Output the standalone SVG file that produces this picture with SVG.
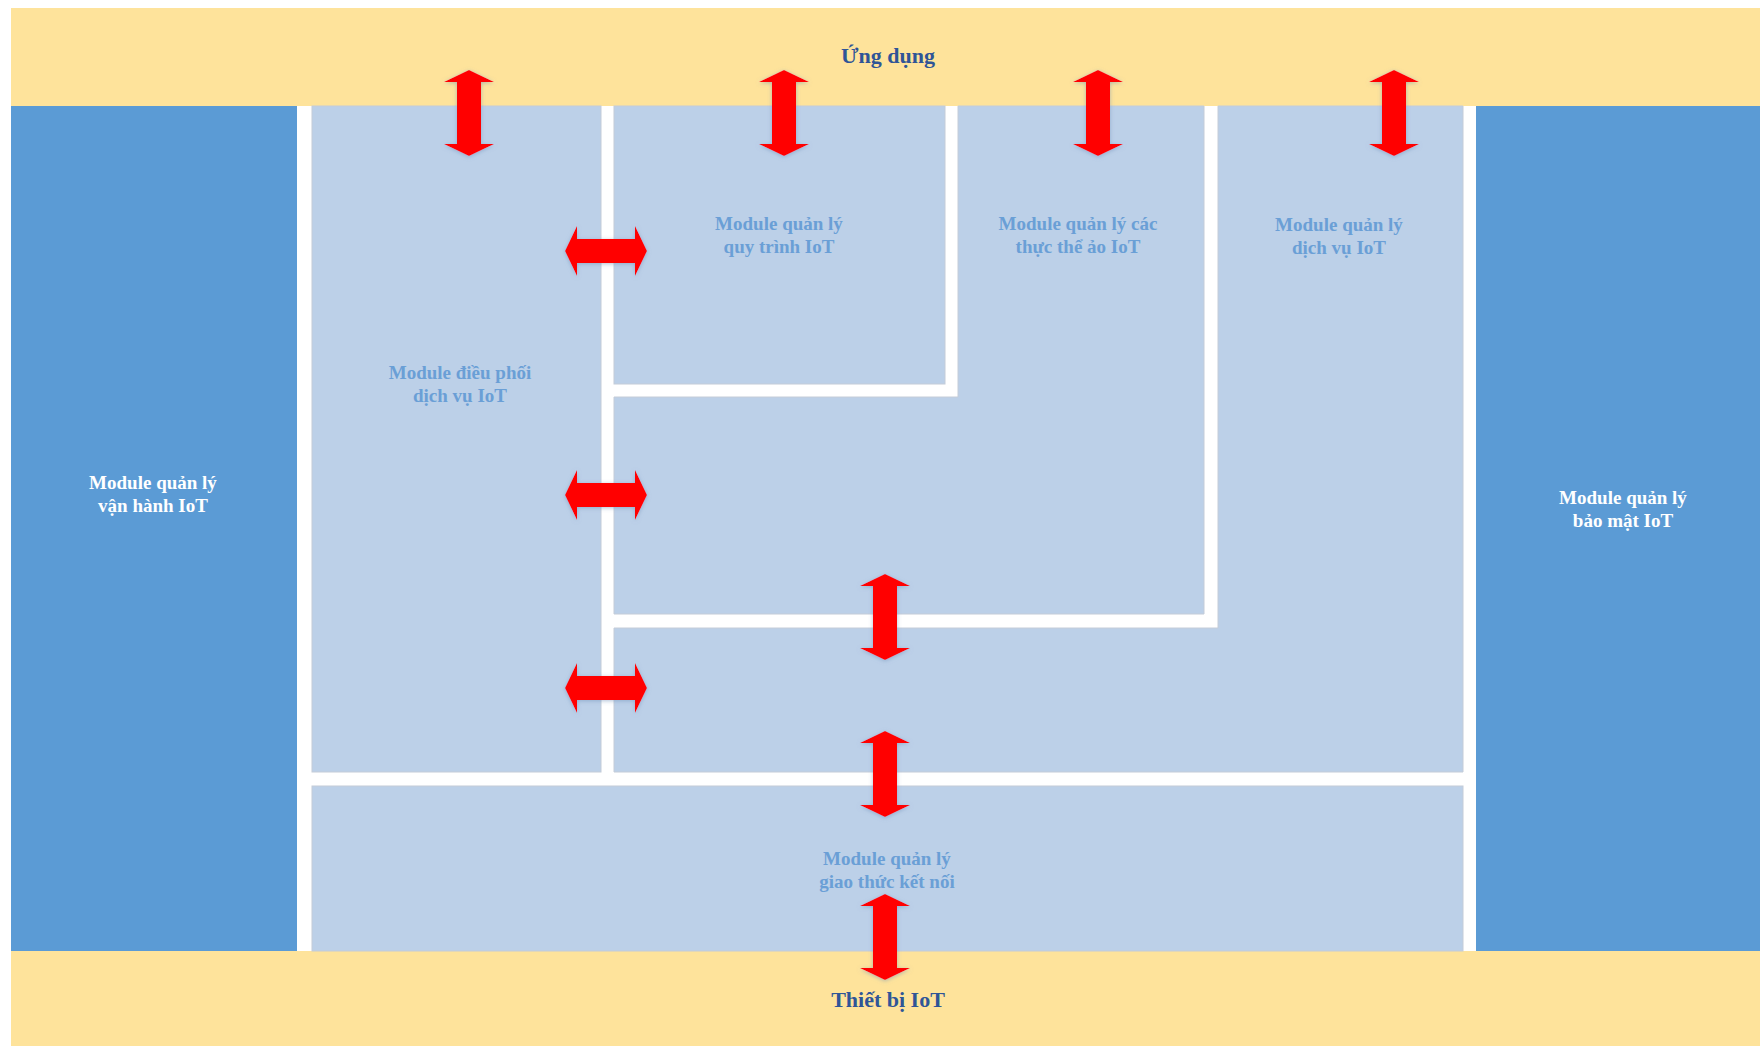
<svg xmlns="http://www.w3.org/2000/svg" width="1760" height="1046" viewBox="0 0 1760 1046">
  <style>
    .band { fill: #FEE39B; }
    .side { fill: #5B9BD5; }
    .panel { fill: #BCD0E8; stroke: #C4CCD8; stroke-width: 1; }
    .title { font-family: "Liberation Serif", "Times New Roman", serif; font-weight: bold; font-size: 22px; fill: #2F5597; text-anchor: middle; }
    .lbl { font-family: "Liberation Serif", "Times New Roman", serif; font-weight: bold; font-size: 19px; fill: #6A9FD6; text-anchor: middle; }
    .lbl-w { font-family: "Liberation Serif", "Times New Roman", serif; font-weight: bold; font-size: 19px; fill: #FFFFFF; text-anchor: middle; }
    .arrow { fill: #FF0000; filter: url(#glow); }
  </style>
  <defs>
    <filter id="glow" x="-30%" y="-30%" width="160%" height="160%">
      <feDropShadow dx="0" dy="1" stdDeviation="2" flood-color="#6E8FB8" flood-opacity="0.55"/>
    </filter>
    <!-- double-headed block arrows, centred on the origin -->
    <path id="arrow-v" d="M0 -43 L25 -31 L12 -31 L12 31 L25 31 L0 43 L-25 31 L-12 31 L-12 -31 L-25 -31 Z"/>
    <path id="arrow-h" d="M-41 0 L-29 -25 L-29 -12 L29 -12 L29 -25 L41 0 L29 25 L29 12 L-29 12 L-29 25 Z"/>
  </defs>

  <rect width="1760" height="1046" fill="#FFFFFF"/>

  <g id="ung-dung">
    <rect class="band" x="11" y="8" width="1749" height="98"/>
    <text class="title" x="888" y="63">Ứng dụng</text>
  </g>

  <g id="thiet-bi">
    <rect class="band" x="11" y="951" width="1749" height="95"/>
    <text class="title" x="888" y="1007">Thiết bị IoT</text>
  </g>

  <g id="van-hanh">
    <rect class="side" x="11" y="106" width="286" height="845"/>
    <text class="lbl-w" x="153" y="489">Module quản lý</text>
    <text class="lbl-w" x="153" y="512">vận hành IoT</text>
  </g>

  <g id="bao-mat">
    <rect class="side" x="1476" y="106" width="284" height="845"/>
    <text class="lbl-w" x="1623" y="504">Module quản lý</text>
    <text class="lbl-w" x="1623" y="527">bảo mật IoT</text>
  </g>

  <g id="dieu-phoi">
    <rect class="panel" x="312" y="106" width="289" height="666"/>
    <text class="lbl" x="460" y="379">Module điều phối</text>
    <text class="lbl" x="460" y="402">dịch vụ IoT</text>
  </g>

  <g id="quy-trinh">
    <rect class="panel" x="614" y="106" width="331" height="278"/>
    <text class="lbl" x="779" y="230">Module quản lý</text>
    <text class="lbl" x="779" y="253">quy trình IoT</text>
  </g>

  <g id="thuc-the-ao">
    <polygon class="panel" points="958,106 1204,106 1204,614 614,614 614,397 958,397"/>
    <text class="lbl" x="1078" y="230">Module quản lý các</text>
    <text class="lbl" x="1078" y="253">thực thể ảo IoT</text>
  </g>

  <g id="dich-vu">
    <polygon class="panel" points="1218,106 1463,106 1463,772 614,772 614,628 1218,628"/>
    <text class="lbl" x="1339" y="231">Module quản lý</text>
    <text class="lbl" x="1339" y="254">dịch vụ IoT</text>
  </g>

  <g id="giao-thuc">
    <rect class="panel" x="312" y="786" width="1151" height="165"/>
    <text class="lbl" x="887" y="865">Module quản lý</text>
    <text class="lbl" x="887" y="888">giao thức kết nối</text>
  </g>

  <g id="connectors">
    <use href="#arrow-v" class="arrow" x="469" y="113"/>
    <use href="#arrow-v" class="arrow" x="784" y="113"/>
    <use href="#arrow-v" class="arrow" x="1098" y="113"/>
    <use href="#arrow-v" class="arrow" x="1394" y="113"/>
    <use href="#arrow-h" class="arrow" x="606" y="251"/>
    <use href="#arrow-h" class="arrow" x="606" y="495"/>
    <use href="#arrow-h" class="arrow" x="606" y="688"/>
    <use href="#arrow-v" class="arrow" x="885" y="617"/>
    <use href="#arrow-v" class="arrow" x="885" y="774"/>
    <use href="#arrow-v" class="arrow" x="885" y="937"/>
  </g>
</svg>
